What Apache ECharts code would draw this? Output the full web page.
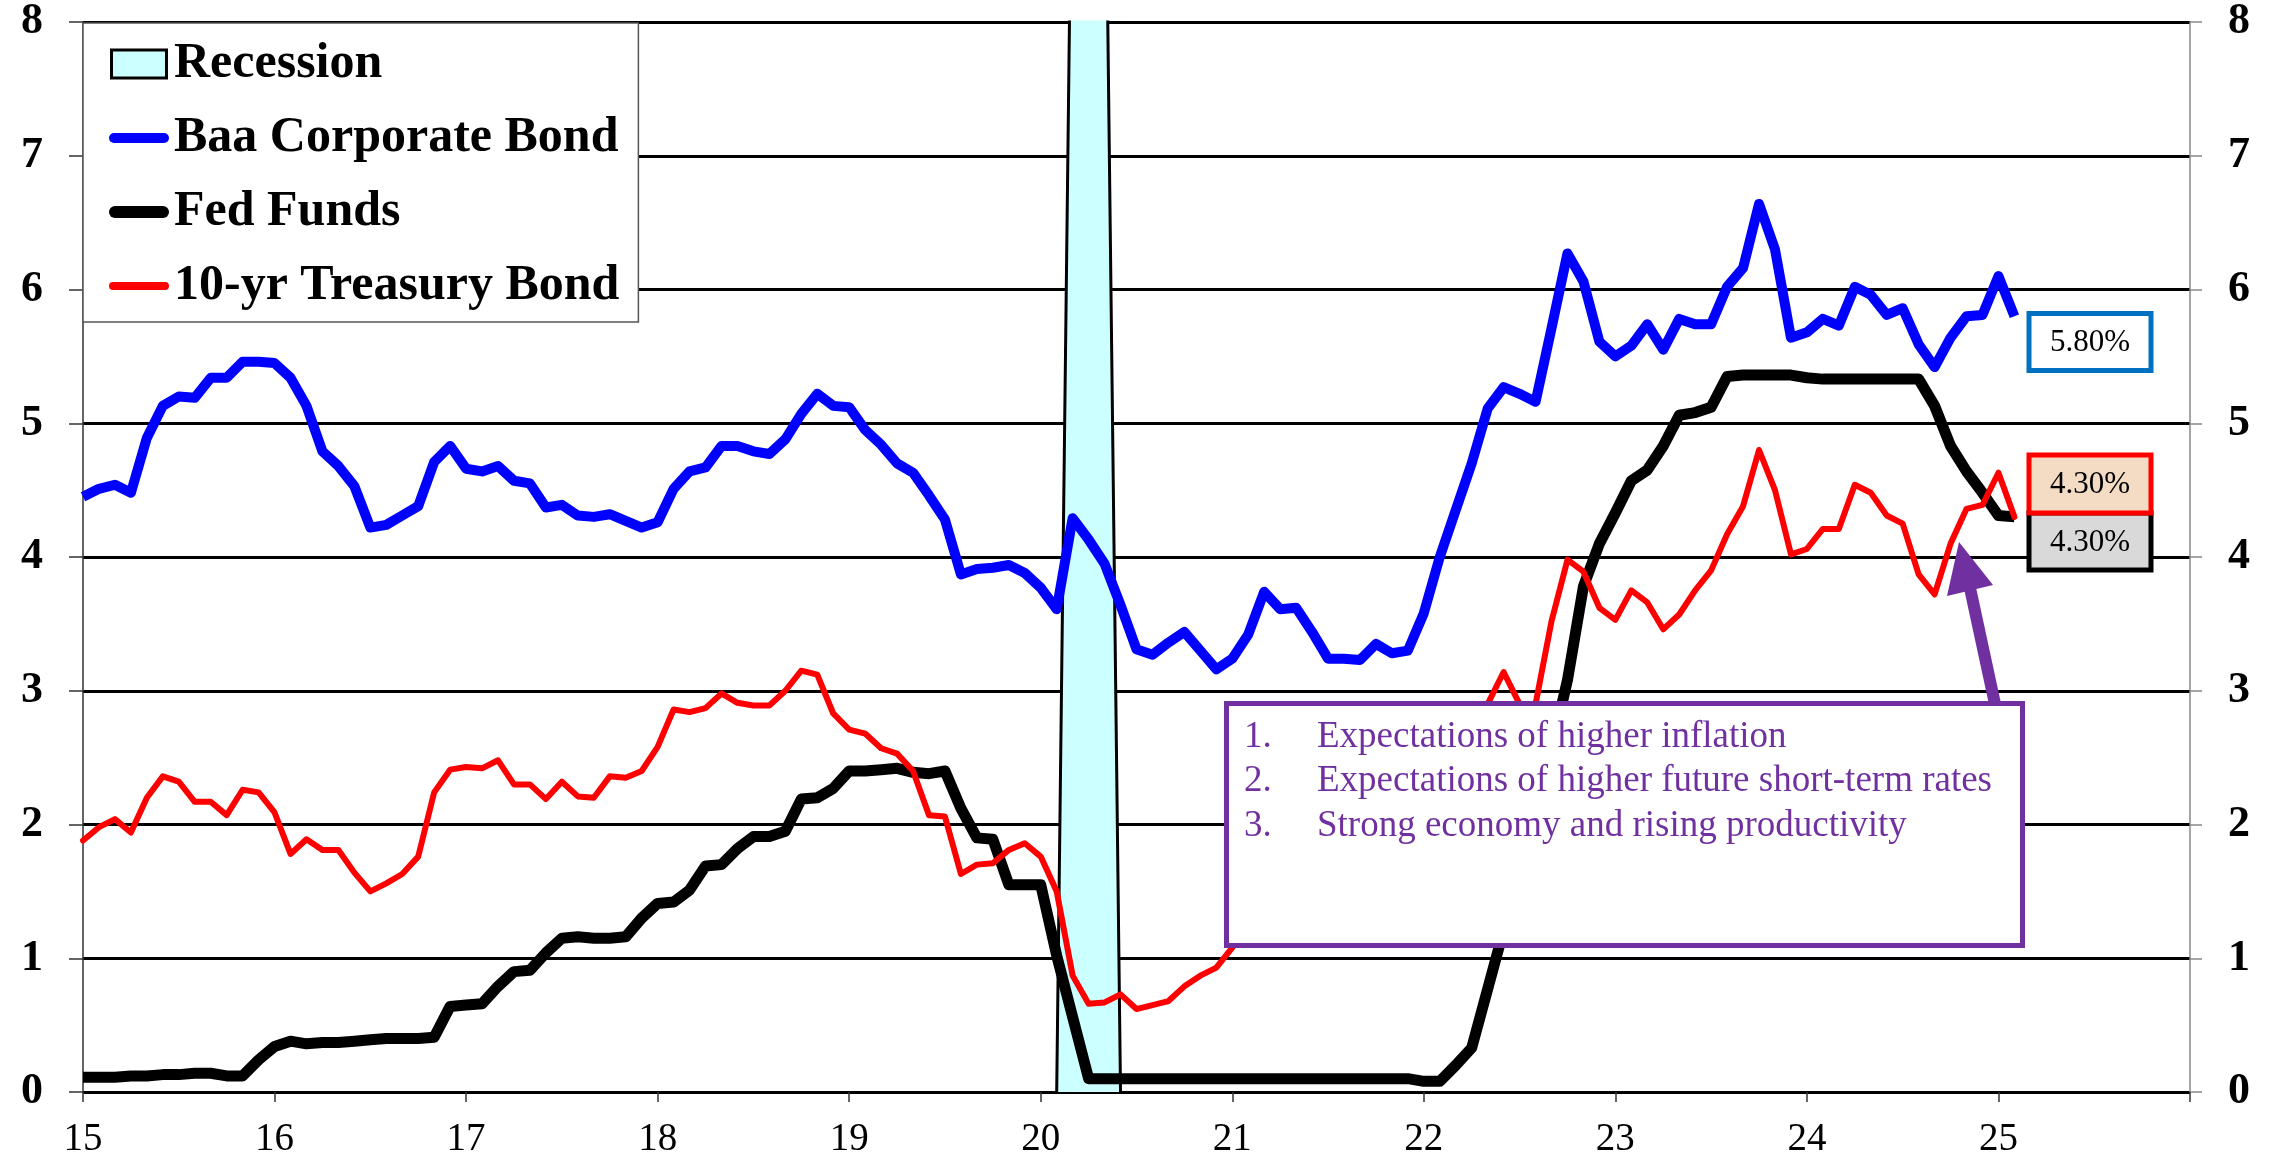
<!DOCTYPE html>
<html>
<head>
<meta charset="utf-8">
<script src="https://cdn.jsdelivr.net/npm/echarts@6/dist/echarts.min.js"></script>
<style>
html,body{margin:0;padding:0;background:#fff;}
#chart{width:2279px;height:1168px;}
</style>
</head>
<body>
<div id="chart"></div>
<script>
// ---------- DATA ----------
const startYear = 2015;
const axisMonths = 133; // Jan 2015 .. Jan 2026 (right edge of axis)
const months = [];
for (let i = 0; i < axisMonths; i++) {
  months.push((startYear + Math.floor(i / 12)) + '-' + String(i % 12 + 1).padStart(2, '0'));
}

// Monthly values Jan 2015 .. Feb 2025
const baaCorporate = [
  4.45, 4.51, 4.54, 4.48, 4.89, 5.13, 5.20, 5.19, 5.34, 5.34, 5.46, 5.46,
  5.45, 5.34, 5.13, 4.79, 4.68, 4.53, 4.22, 4.24, 4.31, 4.38, 4.71, 4.83,
  4.66, 4.64, 4.68, 4.57, 4.55, 4.37, 4.39, 4.31, 4.30, 4.32, 4.27, 4.22,
  4.26, 4.51, 4.64, 4.67, 4.83, 4.83, 4.79, 4.77, 4.88, 5.07, 5.22, 5.13,
  5.12, 4.95, 4.84, 4.70, 4.63, 4.46, 4.28, 3.87, 3.91, 3.92, 3.94, 3.88,
  3.77, 3.61, 4.29, 4.13, 3.95, 3.64, 3.31, 3.27, 3.36, 3.44, 3.30, 3.16,
  3.24, 3.42, 3.74, 3.61, 3.62, 3.44, 3.24, 3.24, 3.23, 3.35, 3.28, 3.30,
  3.58, 4.00, 4.35, 4.70, 5.11, 5.27, 5.22, 5.16, 5.71, 6.27, 6.06, 5.61,
  5.50, 5.58, 5.74, 5.55, 5.78, 5.74, 5.74, 6.02, 6.16, 6.64, 6.30, 5.64,
  5.68, 5.78, 5.73, 6.02, 5.96, 5.81, 5.86, 5.59, 5.42, 5.64, 5.80, 5.81,
  6.10, 5.80
];
const fedFunds = [
  0.11, 0.11, 0.11, 0.12, 0.12, 0.13, 0.13, 0.14, 0.14, 0.12, 0.12, 0.24,
  0.34, 0.38, 0.36, 0.37, 0.37, 0.38, 0.39, 0.40, 0.40, 0.40, 0.41, 0.64,
  0.65, 0.66, 0.79, 0.90, 0.91, 1.04, 1.15, 1.16, 1.15, 1.15, 1.16, 1.30,
  1.41, 1.42, 1.51, 1.69, 1.70, 1.82, 1.91, 1.91, 1.95, 2.19, 2.20, 2.27,
  2.40, 2.40, 2.41, 2.42, 2.39, 2.38, 2.40, 2.12, 1.90, 1.89, 1.55, 1.55,
  1.55, 1.02, 0.56, 0.10, 0.10, 0.10, 0.10, 0.10, 0.10, 0.10, 0.10, 0.10,
  0.10, 0.10, 0.10, 0.10, 0.10, 0.10, 0.10, 0.10, 0.10, 0.10, 0.10, 0.10,
  0.08, 0.08, 0.20, 0.33, 0.77, 1.21, 1.68, 2.33, 2.56, 3.08, 3.78, 4.10,
  4.33, 4.57, 4.65, 4.83, 5.06, 5.08, 5.12, 5.35, 5.36, 5.36, 5.36, 5.36,
  5.34, 5.33, 5.33, 5.33, 5.33, 5.33, 5.33, 5.33, 5.13, 4.83, 4.64, 4.48,
  4.31, 4.30
];
const treasury10y = [
  1.88, 1.98, 2.04, 1.94, 2.20, 2.36, 2.32, 2.17, 2.17, 2.07, 2.26, 2.24,
  2.09, 1.78, 1.89, 1.81, 1.81, 1.64, 1.50, 1.56, 1.63, 1.76, 2.24, 2.41,
  2.43, 2.42, 2.48, 2.30, 2.30, 2.19, 2.32, 2.21, 2.20, 2.36, 2.35, 2.40,
  2.58, 2.86, 2.84, 2.87, 2.98, 2.91, 2.89, 2.89, 3.00, 3.15, 3.12, 2.83,
  2.71, 2.68, 2.57, 2.53, 2.40, 2.07, 2.06, 1.63, 1.70, 1.71, 1.81, 1.86,
  1.76, 1.50, 0.87, 0.66, 0.67, 0.73, 0.62, 0.65, 0.68, 0.79, 0.87, 0.93,
  1.08, 1.26, 1.61, 1.64, 1.62, 1.52, 1.32, 1.28, 1.37, 1.58, 1.56, 1.47,
  1.76, 1.93, 2.13, 2.75, 2.90, 3.14, 2.90, 2.90, 3.52, 3.98, 3.89, 3.62,
  3.53, 3.75, 3.66, 3.46, 3.57, 3.75, 3.90, 4.17, 4.38, 4.80, 4.50, 4.02,
  4.06, 4.21, 4.21, 4.54, 4.48, 4.31, 4.25, 3.87, 3.72, 4.10, 4.36, 4.39,
  4.63, 4.30
];
// Recession shading (values above axis max are clipped)
const recession = [['2020-02', 0], ['2020-03', 10], ['2020-04', 10], ['2020-05', 10], ['2020-06', 0]];

const yTicks = { min: 0, max: 8, interval: 1 };
const latestLabels = { baa: '5.80%', treasury: '4.30%', fed: '4.30%' };
const noteLines = [
  ['1.', 'Expectations of higher inflation'],
  ['2.', 'Expectations of higher future short-term rates'],
  ['3.', 'Strong economy and rising productivity']
];

// ---------- STYLE ----------
const SERIF = 'Liberation Serif';
const PURPLE = '#7030A0';

const chart = echarts.init(document.getElementById('chart'), null, { renderer: 'canvas' });

const noteGraphics = [];
noteLines.forEach((ln, i) => {
  const y = 737 + i * 44.5;
  noteGraphics.push({ type: 'text', x: 1244, y: y, z: 102,
    style: { text: ln[0], font: '37px "' + SERIF + '"', fill: PURPLE, align: 'left', verticalAlign: 'middle' } });
  noteGraphics.push({ type: 'text', x: 1317, y: y, z: 102,
    style: { text: ln[1], font: '37px "' + SERIF + '"', fill: PURPLE, align: 'left', verticalAlign: 'middle' } });
});

const option = {
  animation: false,
  backgroundColor: '#fff',
  grid: { left: 83, right: 89, top: 21, bottom: 76, containLabel: false },
  legend: {
    orient: 'vertical', left: 83, top: 23,
    backgroundColor: '#fff', borderColor: '#555', borderWidth: 1.5,
    padding: [16, 19, 11, 26],
    itemGap: 24, itemWidth: 60, itemHeight: 28, itemTextGap: 1,
    selectedMode: false,
    textStyle: { fontFamily: SERIF, fontWeight: 'bold', fontSize: 50, color: '#000' },
    data: [
      { name: 'Recession', icon: 'path://M0,0H53V27H0Z',
        itemStyle: { color: '#CCFFFF', borderColor: '#000', borderWidth: 3 } },
      { name: 'Baa Corporate Bond', icon: 'path://M5,0H55A5,5 0 0 1 55,10H5A5,5 0 0 1 5,0Z',
        itemStyle: { color: '#0000FF', borderWidth: 0 } },
      { name: 'Fed Funds', icon: 'path://M6,0H54A6,6 0 0 1 54,12H6A6,6 0 0 1 6,0Z',
        itemStyle: { color: '#000000', borderWidth: 0 } },
      { name: '10-yr Treasury Bond', icon: 'path://M4,0H56A4,4 0 0 1 56,8H4A4,4 0 0 1 4,0Z',
        itemStyle: { color: '#FF0000', borderWidth: 0 } }
    ]
  },
  xAxis: {
    type: 'category', data: months, boundaryGap: false,
    axisLine: { show: false },
    axisTick: { show: true, interval: (idx) => idx % 12 === 0, length: 10, lineStyle: { color: '#333', width: 1.5 } },
    axisLabel: {
      interval: (idx) => idx % 12 === 0 && idx < axisMonths - 1,
      formatter: (v) => v.slice(2, 4),
      margin: 28, fontFamily: SERIF, fontSize: 39, color: '#000'
    },
    splitLine: { show: false }
  },
  yAxis: [
    { type: 'value', position: 'left', min: yTicks.min, max: yTicks.max, interval: yTicks.interval,
      axisLine: { show: true, lineStyle: { color: '#333', width: 1.5 } },
      axisTick: { show: true, length: 14, lineStyle: { color: '#333', width: 1.5 } },
      axisLabel: { margin: 40, fontFamily: SERIF, fontWeight: 'bold', fontSize: 44, color: '#000' },
      splitLine: { show: true, lineStyle: { color: '#000', width: 3 } } },
    { type: 'value', position: 'right', min: yTicks.min, max: yTicks.max, interval: yTicks.interval,
      axisLine: { show: true, lineStyle: { color: '#888', width: 1.5 } },
      axisTick: { show: true, length: 12, lineStyle: { color: '#888', width: 1.5 } },
      axisLabel: { margin: 38, fontFamily: SERIF, fontWeight: 'bold', fontSize: 44, color: '#000' },
      splitLine: { show: false } }
  ],
  series: [
    { name: 'Recession', type: 'line', data: recession, symbol: 'none', silent: true, z: 1,
      lineStyle: { color: '#000', width: 3 }, itemStyle: { color: '#CCFFFF' },
      areaStyle: { color: '#CCFFFF', opacity: 1 } },
    { name: 'Baa Corporate Bond', type: 'line', data: baaCorporate, symbol: 'none', z: 2,
      lineStyle: { color: '#0000FF', width: 10, join: 'round' }, itemStyle: { color: '#0000FF' } },
    { name: 'Fed Funds', type: 'line', data: fedFunds, symbol: 'none', z: 3,
      lineStyle: { color: '#000000', width: 11, join: 'round' }, itemStyle: { color: '#000000' } },
    { name: '10-yr Treasury Bond', type: 'line', data: treasury10y, symbol: 'none', z: 4,
      lineStyle: { color: '#FF0000', width: 6, join: 'round', cap: 'round' }, itemStyle: { color: '#FF0000' } }
  ],
  graphic: { elements: [
    // annotation box
    { type: 'rect', z: 100, shape: { x: 1226.5, y: 703.5, width: 796, height: 242 },
      style: { fill: '#fff', stroke: PURPLE, lineWidth: 5 } },
    ...noteGraphics,
    // arrow
    { type: 'line', z: 101, shape: { x1: 1995, y1: 704, x2: 1970, y2: 588 },
      style: { stroke: PURPLE, lineWidth: 12 } },
    { type: 'polygon', z: 101, shape: { points: [[1959, 542], [1947, 596], [1993, 585]] },
      style: { fill: PURPLE } },
    // latest value boxes
    { type: 'rect', z: 100, shape: { x: 2029, y: 313.5, width: 122, height: 57 },
      style: { fill: '#fff', stroke: '#0070C0', lineWidth: 5 } },
    { type: 'text', z: 102, x: 2090, y: 343,
      style: { text: latestLabels.baa, font: '31px "' + SERIF + '"', fill: '#000', align: 'center', verticalAlign: 'middle' } },
    { type: 'rect', z: 100, shape: { x: 2029, y: 513, width: 122, height: 57 },
      style: { fill: '#D9D9D9', stroke: '#000', lineWidth: 5 } },
    { type: 'rect', z: 101, shape: { x: 2029, y: 455, width: 122, height: 58 },
      style: { fill: '#F4DCC4', stroke: '#FF0000', lineWidth: 5 } },
    { type: 'text', z: 102, x: 2090, y: 485,
      style: { text: latestLabels.treasury, font: '31px "' + SERIF + '"', fill: '#000', align: 'center', verticalAlign: 'middle' } },
    { type: 'text', z: 102, x: 2090, y: 543,
      style: { text: latestLabels.fed, font: '31px "' + SERIF + '"', fill: '#000', align: 'center', verticalAlign: 'middle' } }
  ] }
};
chart.setOption(option);
</script>
</body>
</html>
